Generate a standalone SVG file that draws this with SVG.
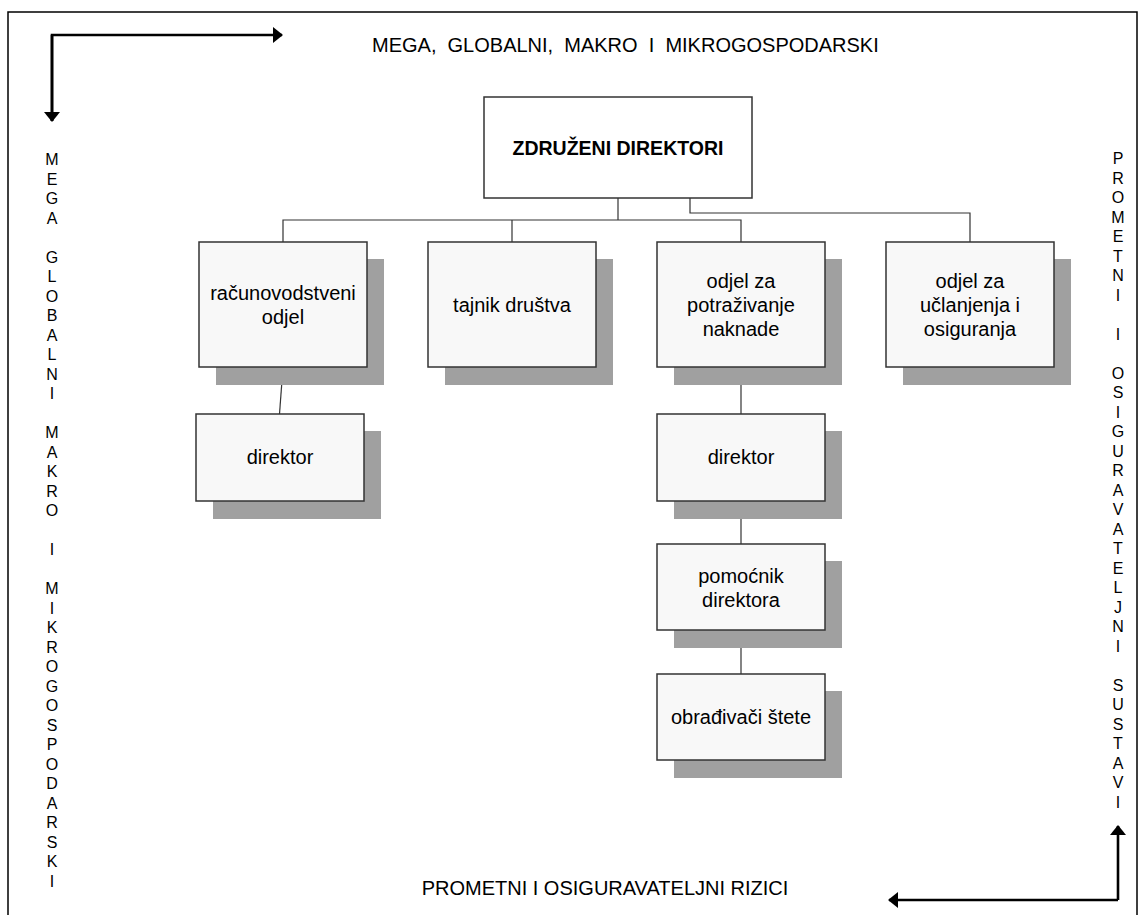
<svg xmlns="http://www.w3.org/2000/svg" width="1148" height="915" viewBox="0 0 1148 915">
<style>
.box{fill:#f8f8f8;stroke:#333;stroke-width:1.5}
.sh{fill:#a0a0a0}
.t{font-family:"Liberation Sans",Arial,sans-serif;font-size:20px;fill:#000;text-anchor:middle}
.b{font-weight:bold;font-size:19.5px}
.v{font-family:"Liberation Sans",Arial,sans-serif;font-size:16px;fill:#000;text-anchor:middle}
.c{fill:none;stroke:#333;stroke-width:1.2}
.arr{fill:none;stroke:#000;stroke-width:2.6}
</style>
<defs>
<marker id="ah" viewBox="0 0 10 16" refX="9" refY="8" markerWidth="10" markerHeight="16" markerUnits="userSpaceOnUse" orient="auto">
<path d="M0,0 L10,8 L0,16 Z" fill="#000"/>
</marker>
</defs>
<rect x="0" y="0" width="1148" height="915" fill="#fff"/>
<path d="M8,930 V12 H1137 V930" fill="none" stroke="#000" stroke-width="1.5"/>

<g id="arrows">
<path class="arr" d="M52,121 V35 H282" marker-end="url(#ah)"/>
<path class="arr" d="M52,35 V121" marker-end="url(#ah)"/>
<path class="arr" d="M1118,900 V826" marker-end="url(#ah)"/>
<path class="arr" d="M1118,900 H889" marker-end="url(#ah)"/>
</g>

<text class="t" x="372" y="52" style="text-anchor:start" xml:space="preserve">MEGA,  GLOBALNI,  MAKRO  I  MIKROGOSPODARSKI</text>
<text class="t" x="605" y="895">PROMETNI I OSIGURAVATELJNI RIZICI</text>

<g id="left-label" class="v">
<text class="v" x="52" y="165">M</text><text class="v" x="52" y="184.5">E</text><text class="v" x="52" y="204">G</text><text class="v" x="52" y="223.5">A</text>
<text class="v" x="52" y="262.5">G</text><text class="v" x="52" y="282">L</text><text class="v" x="52" y="301.5">O</text><text class="v" x="52" y="321">B</text><text class="v" x="52" y="340.5">A</text><text class="v" x="52" y="360">L</text><text class="v" x="52" y="379.5">N</text><text class="v" x="52" y="399">I</text>
<text class="v" x="52" y="438">M</text><text class="v" x="52" y="457.5">A</text><text class="v" x="52" y="477">K</text><text class="v" x="52" y="496.5">R</text><text class="v" x="52" y="516">O</text>
<text class="v" x="52" y="555">I</text>
<text class="v" x="52" y="594">M</text><text class="v" x="52" y="613.5">I</text><text class="v" x="52" y="633">K</text><text class="v" x="52" y="652.5">R</text><text class="v" x="52" y="672">O</text><text class="v" x="52" y="691.5">G</text><text class="v" x="52" y="711">O</text><text class="v" x="52" y="730.5">S</text><text class="v" x="52" y="750">P</text><text class="v" x="52" y="769.5">O</text><text class="v" x="52" y="789">D</text><text class="v" x="52" y="808.5">A</text><text class="v" x="52" y="828">R</text><text class="v" x="52" y="847.5">S</text><text class="v" x="52" y="867">K</text><text class="v" x="52" y="886.5">I</text>
</g>

<g id="right-label">
<text class="v" x="1118" y="164">P</text><text class="v" x="1118" y="183.5">R</text><text class="v" x="1118" y="203">O</text><text class="v" x="1118" y="222.5">M</text><text class="v" x="1118" y="242">E</text><text class="v" x="1118" y="261.5">T</text><text class="v" x="1118" y="281">N</text><text class="v" x="1118" y="300.5">I</text>
<text class="v" x="1118" y="339.5">I</text>
<text class="v" x="1118" y="378.5">O</text><text class="v" x="1118" y="398">S</text><text class="v" x="1118" y="417.5">I</text><text class="v" x="1118" y="437">G</text><text class="v" x="1118" y="456.5">U</text><text class="v" x="1118" y="476">R</text><text class="v" x="1118" y="495.5">A</text><text class="v" x="1118" y="515">V</text><text class="v" x="1118" y="534.5">A</text><text class="v" x="1118" y="554">T</text><text class="v" x="1118" y="573.5">E</text><text class="v" x="1118" y="593">L</text><text class="v" x="1118" y="612.5">J</text><text class="v" x="1118" y="632">N</text><text class="v" x="1118" y="651.5">I</text>
<text class="v" x="1118" y="690.5">S</text><text class="v" x="1118" y="710">U</text><text class="v" x="1118" y="729.5">S</text><text class="v" x="1118" y="749">T</text><text class="v" x="1118" y="768.5">A</text><text class="v" x="1118" y="788">V</text><text class="v" x="1118" y="807.5">I</text>
</g>

<g id="connectors">
<path class="c" d="M618,198 V220"/>
<path class="c" d="M283,242 V220 H741 V242"/>
<path class="c" d="M512,220 V242"/>
<path class="c" d="M690,198 V213 H970 V242"/>
<path class="c" d="M283,367 L279.5,414"/>
<path class="c" d="M741,367 V414"/>
<path class="c" d="M741,501 V544"/>
<path class="c" d="M741,630 V674"/>
</g>

<g id="n-zdruzeni">
<rect class="box" x="484" y="97" width="268" height="101" style="fill:#fff"/>
<text class="t b" x="618" y="155">ZDRUŽENI DIREKTORI</text>
</g>

<g id="n-racunovodstveni">
<rect class="sh" x="216" y="259" width="168" height="126"/>
<rect class="box" x="199" y="242" width="168" height="125"/>
<text class="t" x="283" y="300">računovodstveni</text>
<text class="t" x="283" y="324">odjel</text>
</g>

<g id="n-tajnik">
<rect class="sh" x="445" y="259" width="168" height="126"/>
<rect class="box" x="428" y="242" width="168" height="125"/>
<text class="t" x="512" y="312">tajnik društva</text>
</g>

<g id="n-potrazivanje">
<rect class="sh" x="674" y="259" width="168" height="126"/>
<rect class="box" x="657" y="242" width="168" height="125"/>
<text class="t" x="741" y="288">odjel za</text>
<text class="t" x="741" y="312">potraživanje</text>
<text class="t" x="741" y="336">naknade</text>
</g>

<g id="n-uclanjenja">
<rect class="sh" x="903" y="259" width="168" height="126"/>
<rect class="box" x="886" y="242" width="168" height="125"/>
<text class="t" x="970" y="288">odjel za</text>
<text class="t" x="970" y="312">učlanjenja i</text>
<text class="t" x="970" y="336">osiguranja</text>
</g>

<g id="n-direktor1">
<rect class="sh" x="213" y="431" width="168" height="88"/>
<rect class="box" x="196" y="414" width="168" height="87"/>
<text class="t" x="280" y="464">direktor</text>
</g>

<g id="n-direktor2">
<rect class="sh" x="674" y="431" width="168" height="88"/>
<rect class="box" x="657" y="414" width="168" height="87"/>
<text class="t" x="741" y="464">direktor</text>
</g>

<g id="n-pomocnik">
<rect class="sh" x="674" y="561" width="168" height="87"/>
<rect class="box" x="657" y="544" width="168" height="86"/>
<text class="t" x="741" y="583">pomoćnik</text>
<text class="t" x="741" y="607">direktora</text>
</g>

<g id="n-obradivaci">
<rect class="sh" x="674" y="691" width="168" height="87"/>
<rect class="box" x="657" y="674" width="168" height="86"/>
<text class="t" x="741" y="724">obrađivači štete</text>
</g>
</svg>
